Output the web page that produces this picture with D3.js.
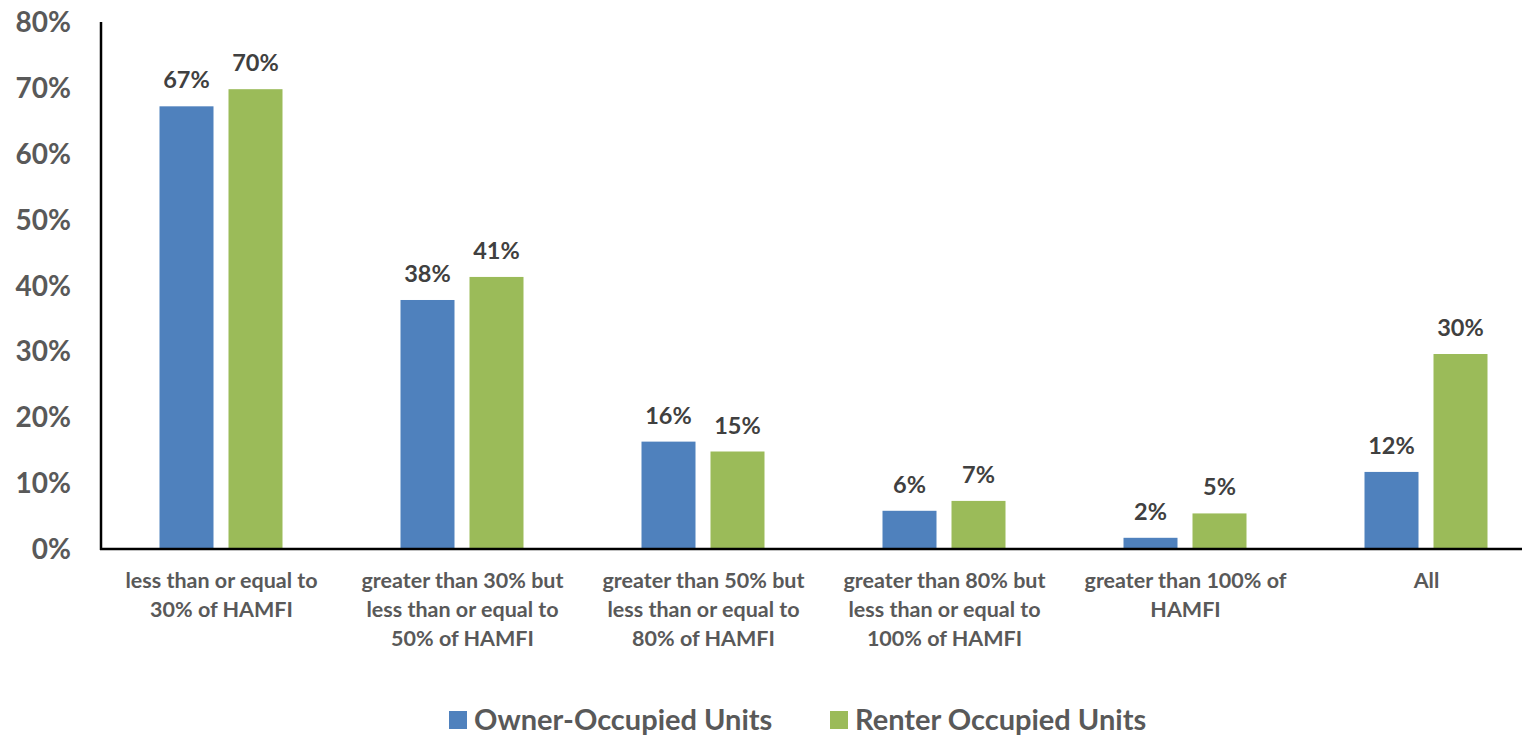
<!DOCTYPE html>
<html>
<head>
<meta charset="utf-8">
<script src="https://cdn.jsdelivr.net/npm/d3@7"></script>
<style>
  body { margin: 0; background: #fff; }
  svg { display: block; font-family: Lato, "Open Sans", sans-serif; font-weight: bold; }
</style>
</head>
<body>
<svg id="chart" width="1522" height="736"></svg>
<script>
var categories = [
    ["less than or equal to", "30% of HAMFI"],
    ["greater than 30% but", "less than or equal to", "50% of HAMFI"],
    ["greater than 50% but", "less than or equal to", "80% of HAMFI"],
    ["greater than 80% but", "less than or equal to", "100% of HAMFI"],
    ["greater than 100% of", "HAMFI"],
    ["All"]
];
var owner = [0.672, 0.378, 0.163, 0.058, 0.017, 0.117];
var renter = [0.698, 0.413, 0.148, 0.073, 0.054, 0.296];
var seriesNames = ["Owner-Occupied Units", "Renter Occupied Units"];
var yTicks = [0, 0.1, 0.2, 0.3, 0.4, 0.5, 0.6, 0.7, 0.8];

var colors = ["#4f81bd", "#9bbb59"];

var svg = d3.select("#chart"),
    margin = { top: 22, left: 101, bottom: 187 },
    height = +svg.attr("height");

var x = d3.scaleBand()
    .domain(d3.range(categories.length))
    .range([margin.left, margin.left + 241 * categories.length]);

var y = d3.scaleLinear()
    .domain([0, 0.8])
    .range([height - margin.bottom, margin.top]);

// y axis labels
svg.append("g")
    .selectAll("text")
    .data(yTicks)
    .enter().append("text")
    .attr("x", 71)
    .attr("y", function (d) { return y(d); })
    .attr("dy", "0.36em")
    .attr("text-anchor", "end")
    .attr("fill", "#595959")
    .attr("font-size", 28)
    .text(function (d) { return Math.round(d * 100) + "%"; });

var series = [owner, renter];
var offsets = [-35, 34];
var barW = 54;

series.forEach(function (vals, s) {
    var g = svg.append("g");
    g.selectAll("rect")
        .data(vals)
        .enter().append("rect")
        .attr("x", function (d, i) { return x(i) + x.bandwidth() / 2 + offsets[s] - barW / 2; })
        .attr("y", function (d) { return y(d); })
        .attr("width", barW)
        .attr("height", function (d) { return y(0) - y(d); })
        .attr("fill", colors[s]);
    g.selectAll("text")
        .data(vals)
        .enter().append("text")
        .attr("x", function (d, i) { return x(i) + x.bandwidth() / 2 + offsets[s]; })
        .attr("y", function (d) { return y(d) - 18; })
        .attr("text-anchor", "middle")
        .attr("fill", "#404040")
        .attr("font-size", 23.5)
        .text(function (d) { return Math.round(d * 100) + "%"; });
});

// axes lines
svg.append("line")
    .attr("x1", margin.left).attr("x2", margin.left)
    .attr("y1", y(0.8)).attr("y2", y(0) + 1)
    .attr("stroke", "#000").attr("stroke-width", 2.5);
svg.append("line")
    .attr("x1", margin.left - 1).attr("x2", 1522)
    .attr("y1", y(0)).attr("y2", y(0))
    .attr("stroke", "#000").attr("stroke-width", 2.5);

// category labels
var cat = svg.append("g")
    .selectAll("text")
    .data(categories)
    .enter().append("text")
    .attr("x", function (d, i) { return x(i) + x.bandwidth() / 2; })
    .attr("y", 588)
    .attr("text-anchor", "middle")
    .attr("fill", "#595959")
    .attr("font-size", 21.5);
cat.selectAll("tspan")
    .data(function (d) { return d; })
    .enter().append("tspan")
    .attr("x", function () { return this.parentNode.getAttribute("x"); })
    .attr("dy", function (d, i) { return i === 0 ? 0 : 29; })
    .text(function (d) { return d; });

// legend
var legendX = [449, 830];
var legend = svg.append("g")
    .selectAll("g")
    .data(seriesNames)
    .enter().append("g")
    .attr("transform", function (d, i) { return "translate(" + legendX[i] + ",711)"; });
legend.append("rect")
    .attr("width", 18).attr("height", 18)
    .attr("fill", function (d, i) { return colors[i]; });
legend.append("text")
    .attr("x", 25)
    .attr("y", 9)
    .attr("dy", "0.36em")
    .attr("fill", "#595959")
    .attr("font-size", 29)
    .text(function (d) { return d; });
</script>
</body>
</html>
